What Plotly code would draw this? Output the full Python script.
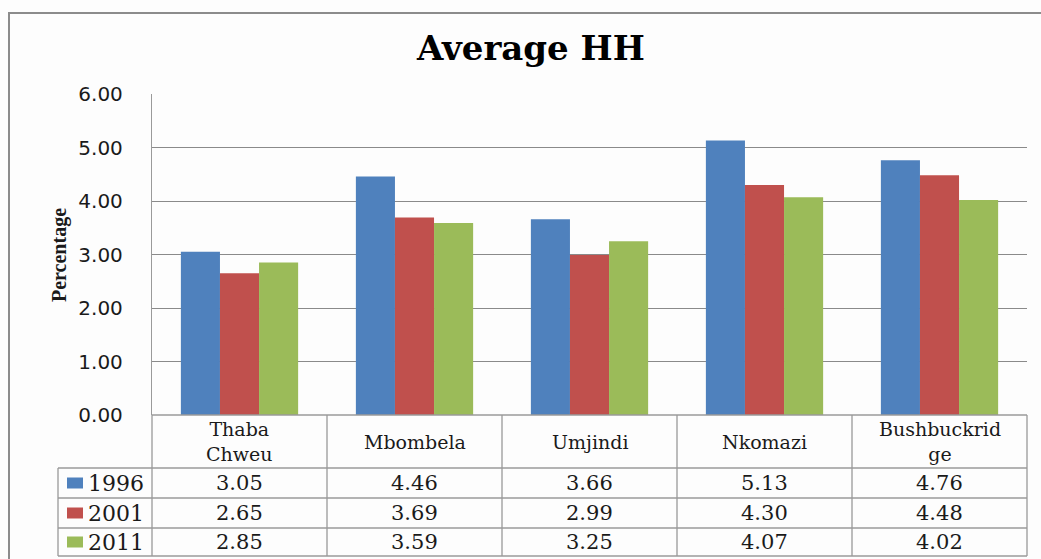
import plotly.graph_objects as go

categories = ["Thaba Chweu", "Mbombela", "Umjindi", "Nkomazi", "Bushbuckridge"]
category_labels = ["Thaba<br>Chweu", "Mbombela", "Umjindi", "Nkomazi", "Bushbuckrid<br>ge"]
series_names = ["1996", "2001", "2011"]
values_1996 = [3.05, 4.46, 3.66, 5.13, 4.76]
values_2001 = [2.65, 3.69, 2.99, 4.30, 4.48]
values_2011 = [2.85, 3.59, 3.25, 4.07, 4.02]
series_values = [values_1996, values_2001, values_2011]
colors = ["#4F81BD", "#C0504D", "#9BBB59"]
y_ticks = [0, 1, 2, 3, 4, 5, 6]

W, H = 1041, 559
L, R, T, B = 152, 14, 94, 144
pw = W - L - R
ph = H - T - B


def px_x(p):
    return (p - L) / pw


def px_y(p):
    return (H - B - p) / ph


fig = go.Figure()
for name, vals, col in zip(series_names, series_values, colors):
    fig.add_trace(go.Bar(x=list(range(len(categories))), y=vals, name=name,
                         marker=dict(color=col, line=dict(width=0)),
                         showlegend=False))

grid = "#8a8a8a"
tbl = "#9a9a9a"
shapes = []
annotations = []
n = len(categories)

# outer frame
shapes.append(dict(type="rect", xref="paper", yref="paper",
                   x0=px_x(9), x1=px_x(1080), y0=px_y(600), y1=px_y(13),
                   line=dict(color="#8c8c8c", width=2), layer="below"))

# table rows (pixel positions of horizontal lines)
row_lines = [415, 468, 498, 528, 556]
legend_left = 58
shapes.append(dict(type="line", xref="paper", yref="paper", x0=0, x1=1,
                   y0=px_y(row_lines[0]), y1=px_y(row_lines[0]), line=dict(color=tbl, width=1.3)))
for yl in row_lines[1:]:
    shapes.append(dict(type="line", xref="paper", yref="paper", x0=px_x(legend_left), x1=1,
                       y0=px_y(yl), y1=px_y(yl), line=dict(color=tbl, width=1.3)))
for i in range(n + 1):
    xp = i / n
    shapes.append(dict(type="line", xref="paper", yref="paper", x0=xp, x1=xp,
                       y0=px_y(row_lines[-1]), y1=px_y(row_lines[0]), line=dict(color=tbl, width=1.3)))
shapes.append(dict(type="line", xref="paper", yref="paper", x0=px_x(legend_left), x1=px_x(legend_left),
                   y0=px_y(row_lines[-1]), y1=px_y(row_lines[1]), line=dict(color=tbl, width=1.3)))

serif = "DejaVu Serif"
for i, lab in enumerate(category_labels):
    annotations.append(dict(x=(i + 0.5) / n, y=px_y((row_lines[0] + row_lines[1]) / 2),
                            xref="paper", yref="paper", text=lab, showarrow=False,
                            font=dict(family=serif, size=19, color="#1a1a1a"),
                            xanchor="center", yanchor="middle"))
for r, (name, vals, col) in enumerate(zip(series_names, series_values, colors)):
    yc = px_y((row_lines[r + 1] + row_lines[r + 2]) / 2)
    for i, v in enumerate(vals):
        annotations.append(dict(x=(i + 0.5) / n, y=yc, xref="paper", yref="paper",
                                text=f"{v:.2f}", showarrow=False,
                                font=dict(family=serif, size=21, color="#1a1a1a"),
                                xanchor="center", yanchor="middle"))
    shapes.append(dict(type="rect", xref="paper", yref="paper",
                       x0=px_x(67), x1=px_x(83),
                       y0=yc - 5.5 / ph, y1=yc + 5.5 / ph,
                       fillcolor=col, line=dict(width=0)))
    annotations.append(dict(x=px_x(86), y=yc, xref="paper", yref="paper",
                            text=name, showarrow=False,
                            font=dict(family=serif, size=22, color="#1a1a1a"),
                            xanchor="left", yanchor="middle"))

annotations.append(dict(x=px_x(60), y=px_y(255), xref="paper", yref="paper", text="<b>Percentage</b>",
                        showarrow=False, textangle=-90,
                        font=dict(family="Liberation Serif", size=20, color="#1a1a1a"),
                        xanchor="center", yanchor="middle"))
annotations.append(dict(x=px_x(530), y=px_y(48), xref="paper", yref="paper", text="<b>Average HH</b>",
                        showarrow=False,
                        font=dict(family=serif, size=34, color="#000000"),
                        xanchor="center", yanchor="middle"))

fig.update_layout(
    width=W, height=H,
    margin=dict(l=L, r=R, t=T, b=B, pad=0),
    paper_bgcolor="#fdfdfd", plot_bgcolor="#fdfdfd",
    barmode="group", bargap=0.33, bargroupgap=0,
    shapes=shapes, annotations=annotations,
    xaxis=dict(range=[-0.5, n - 0.5], showticklabels=False, showgrid=False,
               zeroline=False, showline=False, ticks=""),
    yaxis=dict(range=[0, 6], tickvals=y_ticks, tickformat=".2f",
               showgrid=True, gridcolor=grid, gridwidth=1.3, zeroline=False,
               showline=True, linecolor=tbl, linewidth=1.3, ticks="",
               ticklabelstandoff=24,
               tickfont=dict(family="DejaVu Sans", size=20, color="#1a1a1a")),
)

fig.write_html("out.html", config={"displayModeBar": False},
               post_script="document.body.style.margin='0';document.body.style.padding='0';")
